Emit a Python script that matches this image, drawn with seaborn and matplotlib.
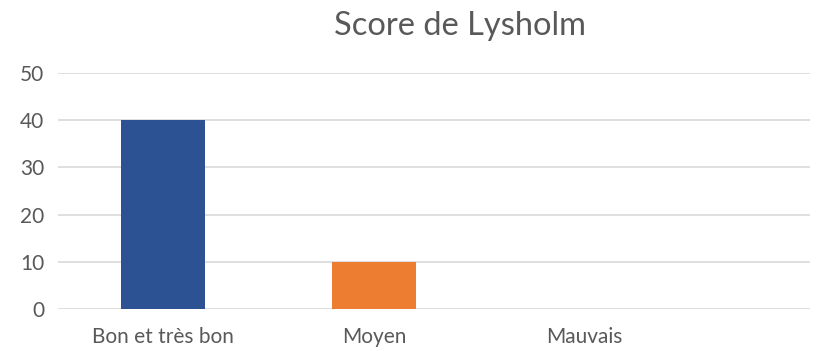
import matplotlib
matplotlib.use("Agg")
import matplotlib.pyplot as plt
import seaborn as sns
import pandas as pd

categories = ["Bon et très bon", "Moyen", "Mauvais"]
values = [40, 10, 0]
colors = ["#2C5293", "#ED7D31", "#A5A5A5"]
y_ticks = [0, 10, 20, 30, 40, 50]
title = "Score de Lysholm"

sns.set_theme(style="white")
plt.rcParams["font.family"] = ["Lato", "DejaVu Sans"]

df = pd.DataFrame({"categorie": categories, "valeur": values})

fig = plt.figure(figsize=(8.35, 3.51), dpi=100)
ax = fig.add_axes([0.0695, 0.1197, 0.9005, 0.6723])

sns.barplot(data=df, x="categorie", y="valeur", hue="categorie",
            palette=colors, width=0.40, legend=False, ax=ax,
            saturation=1, linewidth=0)

ax.set_ylim(0, 50)
ax.set_yticks(y_ticks)
ax.set_xlim(-0.5, 3.07)
ax.yaxis.grid(True, color="#D9D9D9", linewidth=1.2)
ax.set_axisbelow(True)
for s in ax.spines.values():
    s.set_visible(False)
ax.tick_params(axis="both", length=0, labelsize=15, colors="#595959")
ax.tick_params(axis="y", pad=10)
ax.tick_params(axis="x", pad=13)
ax.set_xlabel("")
ax.set_ylabel("")

fig.text(0.551, 0.925, title, ha="center", va="center",
         fontsize=23.5, color="#595959")

fig.savefig("out.png", dpi=100, facecolor="white")
